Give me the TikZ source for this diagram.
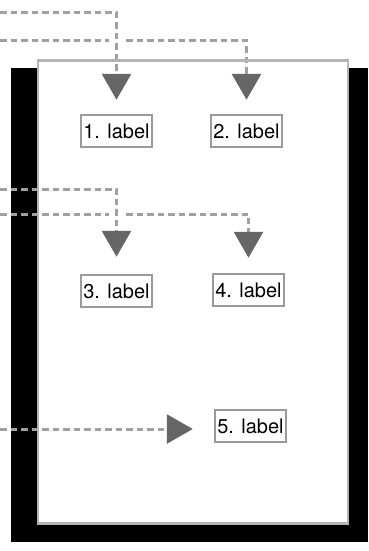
\documentclass[tikz,border=0pt]{standalone}
\usepackage{fontspec}
\setmainfont{TeX Gyre Heros}
\usetikzlibrary{arrows.meta}
\definecolor{linegray}{HTML}{A0A0A0}
\definecolor{tipgray}{HTML}{666666}
\definecolor{boxgray}{HTML}{9A9A9A}
\definecolor{framegray}{HTML}{B4B4B4}
\begin{document}
\begin{tikzpicture}[x=1pt,y=-1pt,
    link/.style={draw=linegray,line width=3pt,dash pattern=on 6.5pt off 4pt,
      -{Triangle[width=29pt,length=26pt,color=tipgray]}},
    gap/.style={draw=white,line width=16pt,shorten >=40pt}]

      \useasboundingbox (0,0) rectangle (368,551);
      \fill[black] (11,68) rectangle (368,542);
      \fill[white] (38,60.5) rectangle (348,523.5);

      \begin{scope}[every node/.style={draw=boxgray,line width=2.5pt,fill=white,inner sep=0pt,
          minimum width=71pt,minimum height=32pt,font=\fontsize{20}{20}\selectfont}]
        \node (1) at (116.5,131) {1. label};
        \node (2) at (246.5,131) {2. label};
        \node (3) at (116.5,291) {3. label};
        \node (4) at (248.5,290) {4. label};
        \node (5) at (250.5,426) {5. label};
      \end{scope}

      \coordinate (s1) at (0,13);
      \coordinate (s2) at (0,41);
      \coordinate (s3) at (0,189);
      \coordinate (s4) at (0,214);
      \coordinate (s5) at (0,429);

      \draw[link,shorten >=14pt] (s2) -| (2);
      \draw[link,shorten >=15pt] (s4) -| (4);
      \draw[link,shorten >=21pt] (s5) -- (s5 -| 5.west);

      % gaps where the lines cross
      \begin{scope}
        \clip (38,0) rectangle (368,551);
        \draw[gap] (s1) -| (1);
        \draw[gap] (s3) -| (3);
      \end{scope}

      \draw[link,shorten >=14pt] (s1) -| (1);
      \draw[link,shorten >=17pt] (s3) -| (3);

      \draw[framegray,line width=2.5pt] (38,60.5) rectangle (348,523.5);

    \end{tikzpicture}
\end{document}
